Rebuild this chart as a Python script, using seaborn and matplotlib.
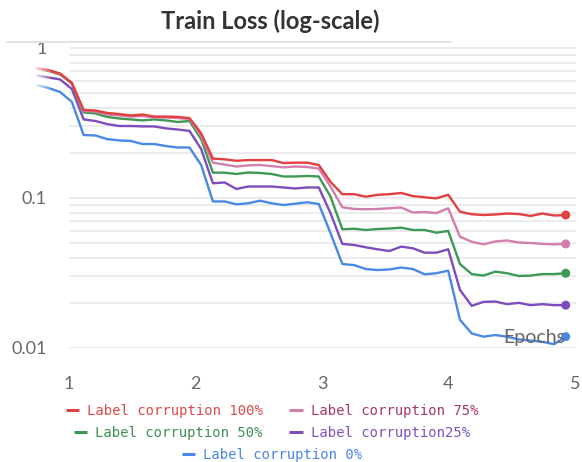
import numpy as np
import pandas as pd
import matplotlib
matplotlib.use("Agg")
import matplotlib.pyplot as plt
from matplotlib.lines import Line2D
from matplotlib.patches import Rectangle
from matplotlib.ticker import NullLocator
import seaborn as sns

# ── Data ──────────────────────────────────────────────────────────────────────
EPOCHS = [0.744, 0.837, 0.930, 1.023, 1.116, 1.209, 1.302, 1.395, 1.488, 1.581,
          1.674, 1.767, 1.860, 1.953, 2.045, 2.138, 2.231, 2.324, 2.417, 2.510,
          2.603, 2.696, 2.789, 2.882, 2.975, 3.068, 3.161, 3.254, 3.347, 3.440,
          3.533, 3.626, 3.719, 3.812, 3.905, 3.998, 4.091, 4.184, 4.277, 4.370,
          4.463, 4.556, 4.649, 4.742, 4.835, 4.927]

LOSS_100 = [0.736, 0.713, 0.676, 0.584, 0.386, 0.383, 0.369, 0.363, 0.355, 0.360,
            0.349, 0.349, 0.347, 0.341, 0.270, 0.183, 0.181, 0.177, 0.179, 0.179,
            0.179, 0.171, 0.172, 0.172, 0.166, 0.128, 0.106, 0.106, 0.102, 0.105,
            0.106, 0.108, 0.103, 0.101, 0.0995, 0.105, 0.0810, 0.0779, 0.0770, 0.0776,
            0.0788, 0.0782, 0.0759, 0.0788, 0.0764, 0.0770]
LOSS_75 = [0.730, 0.708, 0.671, 0.582, 0.380, 0.377, 0.360, 0.355, 0.349, 0.352,
           0.344, 0.344, 0.341, 0.336, 0.259, 0.172, 0.167, 0.162, 0.165, 0.166,
           0.163, 0.160, 0.162, 0.161, 0.157, 0.119, 0.0867, 0.0845, 0.0841, 0.0845,
           0.0854, 0.0864, 0.0800, 0.0806, 0.0794, 0.0854, 0.0552, 0.0511, 0.0491, 0.0513,
           0.0521, 0.0505, 0.0501, 0.0494, 0.0491, 0.0494]
LOSS_50 = [0.724, 0.703, 0.666, 0.580, 0.372, 0.366, 0.347, 0.339, 0.334, 0.329,
           0.334, 0.329, 0.321, 0.326, 0.247, 0.1475, 0.1475, 0.1445, 0.1479, 0.1468,
           0.1445, 0.1391, 0.1391, 0.1402, 0.1391, 0.1020, 0.0619, 0.0624, 0.0612, 0.0621,
           0.0626, 0.0634, 0.0612, 0.0612, 0.0587, 0.0603, 0.0363, 0.0311, 0.0304, 0.0323,
           0.0315, 0.0302, 0.0304, 0.0311, 0.0311, 0.0315]
LOSS_25 = [0.656, 0.636, 0.617, 0.533, 0.334, 0.326, 0.311, 0.302, 0.302, 0.300,
           0.300, 0.291, 0.286, 0.280, 0.212, 0.1253, 0.1269, 0.1148, 0.1193, 0.1193,
           0.1193, 0.1175, 0.1157, 0.1175, 0.1175, 0.0791, 0.0494, 0.0486, 0.0469, 0.0455,
           0.0443, 0.0474, 0.0462, 0.0432, 0.0432, 0.0455, 0.0244, 0.0191, 0.0203, 0.0204,
           0.0196, 0.0200, 0.0193, 0.0196, 0.0193, 0.0193]
LOSS_0 = [0.567, 0.541, 0.509, 0.437, 0.263, 0.261, 0.247, 0.242, 0.240, 0.229,
          0.229, 0.222, 0.217, 0.217, 0.166, 0.0948, 0.0948, 0.0908, 0.0922, 0.0959,
          0.0922, 0.0898, 0.0916, 0.0936, 0.0912, 0.0582, 0.0363, 0.0357, 0.0336, 0.0331,
          0.0334, 0.0344, 0.0336, 0.0310, 0.0315, 0.0328, 0.0154, 0.0125, 0.0119, 0.0122,
          0.0119, 0.0114, 0.0112, 0.0110, 0.0106, 0.0119]

SERIES = ["Label corruption 100%", "Label corruption 75%", "Label corruption 50%",
          "Label corruption25%", "Label corruption 0%"]
LINE_COLORS = ["#e0403f", "#d17fac", "#3d9a55", "#7d4dbb", "#4a88e5"]
TEXT_COLORS = ["#df4a4a", "#a7366e", "#3f8f55", "#7e52c0", "#4b85e3"]

X_TICKS = [1, 2, 3, 4, 5]
Y_TICKS = [0.01, 0.1, 1]
Y_TICK_LABELS = ["0.01", "0.1", "1"]

# ── Style ─────────────────────────────────────────────────────────────────────
sns.set_style("white")
plt.rcParams["font.family"] = ["Lato", "DejaVu Sans"]

frames = []
for name, vals in zip(SERIES, [LOSS_100, LOSS_75, LOSS_50, LOSS_25, LOSS_0]):
    frames.append(pd.DataFrame({"epoch": EPOCHS, "loss": vals, "series": name}))
df = pd.concat(frames, ignore_index=True)
palette = dict(zip(SERIES, LINE_COLORS))
draw_order = SERIES[::-1]

fig = plt.figure(figsize=(5.82, 4.62), dpi=100)
ax = fig.add_axes([31 / 582, 114 / 462, 546.5 / 582, 303.2 / 462])
ax.set_yscale("log")

# horizontal grid at every log step, only across the epoch range
grid_vals = [m * 10.0 ** p for p in (-2, -1) for m in range(1, 10)] + [1.0]
ax.hlines(grid_vals, 1, 5.01, color="#ebebeb", lw=1.3, zorder=0)

sns.lineplot(data=df, x="epoch", y="loss", hue="series", hue_order=draw_order,
             palette=palette, lw=1.7, legend=False, ax=ax, zorder=3)
last = df.groupby("series", sort=False).tail(1)
sns.scatterplot(data=last, x="epoch", y="loss", hue="series", hue_order=draw_order,
                palette=palette, s=42, edgecolor="none", legend=False, ax=ax, zorder=4)

ax.set_xlim(0.70, 5.02)
ax.set_ylim(0.01, 1.05)

# soft fade of the line starts on the left
n_fade = 12
x0, x1 = 0.735, 0.86
for j in range(n_fade):
    xa = x0 + (x1 - x0) * j / n_fade
    ax.add_patch(Rectangle((xa, 0.42), (x1 - x0) / n_fade, 0.45, facecolor="white",
                           edgecolor="none", alpha=0.85 * (1 - j / n_fade), zorder=5))

ax.set_xticks(X_TICKS)
ax.set_xticklabels([str(t) for t in X_TICKS])
ax.set_yticks(Y_TICKS)
ax.set_yticklabels(Y_TICK_LABELS)
ax.yaxis.set_minor_locator(NullLocator())
ax.xaxis.set_minor_locator(NullLocator())
ax.tick_params(axis="x", length=11, width=1.2, color="#e3e3e3", pad=9,
               labelsize=13, labelcolor="#666666")
ax.tick_params(axis="y", length=0, pad=-11.5, labelsize=13, labelcolor="#666666")
ax.set_xlabel("")
ax.set_ylabel("")
for s in ax.spines.values():
    s.set_visible(False)

ax.text(0.977, 0.033, "Epochs", transform=ax.transAxes, ha="right", va="center",
        fontsize=14, color="#666666", zorder=6)

# title and header rule
fig.text(270 / 582, 1 - 21 / 462, "Train Loss (log-scale)", ha="center", va="center",
         fontsize=17, fontweight="bold", color="#333333")
fig.add_artist(Line2D([7 / 582, 451 / 582], [1 - 42 / 462, 1 - 42 / 462],
                      color="#e4e4e4", lw=1.5))

# centred legend rows
rows = [[0, 1], [2, 3], [4]]
row_y = [411, 433, 455]
for idx, y in zip(rows, row_y):
    handles = [Line2D([], [], color=LINE_COLORS[i], lw=2.2, solid_capstyle="butt")
               for i in idx]
    leg = fig.legend(handles, [SERIES[i] for i in idx], loc="center",
                     bbox_to_anchor=(272 / 582, 1 - y / 462), ncol=len(idx),
                     frameon=False, prop={"family": "DejaVu Sans Mono", "size": 10},
                     handlelength=0.95, handletextpad=0.6, columnspacing=1.9,
                     borderpad=0, borderaxespad=0)
    for t, i in zip(leg.get_texts(), idx):
        t.set_color(TEXT_COLORS[i])

fig.savefig("out.png", dpi=100)
